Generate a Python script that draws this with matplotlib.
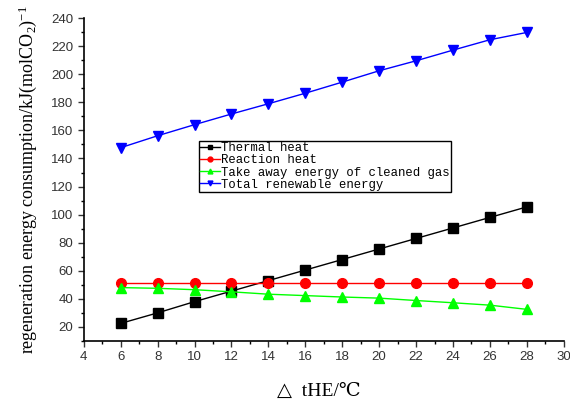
import matplotlib.pyplot as plt

plt.rcParams["mathtext.fontset"] = "custom"
plt.rcParams["mathtext.rm"] = "Liberation Serif"
plt.rcParams["mathtext.it"] = "Liberation Serif:italic"

delta_t = [6, 8, 10, 12, 14, 16, 18, 20, 22, 24, 26, 28]
thermal_heat = [22.5, 30, 38, 45.5, 53, 60.5, 68, 75.5, 83, 90.5, 98, 105.5]
reaction_heat = [51, 51, 51, 51, 51, 51, 51, 51, 51, 51, 51, 51]
take_away = [48, 47.5, 46.5, 45, 43.3, 42.3, 41.3, 40.5, 38.8, 37.2, 35.5, 32.5]
total_energy = [147.7, 156.2, 164.1, 171.7, 179, 186.5, 194.4, 202.5, 209.6, 217.2, 224.6, 229.8]

series = [
    ("Thermal heat", thermal_heat, "#000000", "s"),
    ("Reaction heat", reaction_heat, "#ff0000", "o"),
    ("Take away energy of cleaned gas", take_away, "#00ff00", "^"),
    ("Total renewable energy", total_energy, "#0000ff", "v"),
]

fig = plt.figure(figsize=(5.7, 4.03), dpi=100)
ax = fig.add_axes([0.147, 0.154, 0.842, 0.801])

for label, values, color, marker in series:
    ax.plot(delta_t, values, marker=marker, color=color, markersize=7,
            linewidth=1, label=label)

ax.set_xlim(4, 30)
ax.set_ylim(10, 240)
ax.set_xticks(range(4, 31, 2))
ax.set_xticks(range(5, 30, 2), minor=True)
ax.set_yticks(range(20, 241, 20))
ax.set_yticks(range(10, 241, 20), minor=True)
ax.tick_params(which="major", direction="out", length=4, width=1,
               labelsize=9.5, colors="#333333")
ax.tick_params(which="minor", direction="out", length=2.5, width=1)
for lab in ax.get_xticklabels() + ax.get_yticklabels():
    lab.set_family("Liberation Sans")
ax.spines["top"].set_visible(False)
ax.spines["right"].set_visible(False)
ax.spines["left"].set_linewidth(1.2)
ax.spines["bottom"].set_linewidth(1.2)

ax.set_ylabel(r"regeneration energy consumption/kJ(molCO$_2$)$^{-1}$",
              family="Liberation Serif", fontsize=13, labelpad=9)
ax.set_xlabel("△  tHE/℃", family=["Liberation Serif", "DejaVu Serif"],
              fontsize=14, labelpad=14)
ax.xaxis.set_label_coords(0.49, -0.13)

leg = ax.legend(loc="upper left", bbox_to_anchor=(0.24, 0.62),
                prop={"family": "Liberation Mono", "size": 8.8},
                handlelength=1.6, handletextpad=0.1, labelspacing=0.02,
                borderpad=0.1, borderaxespad=0, markerscale=0.5,
                fancybox=False, framealpha=1, edgecolor="black")
leg.get_frame().set_linewidth(1)

plt.savefig("out.png", dpi=100)
